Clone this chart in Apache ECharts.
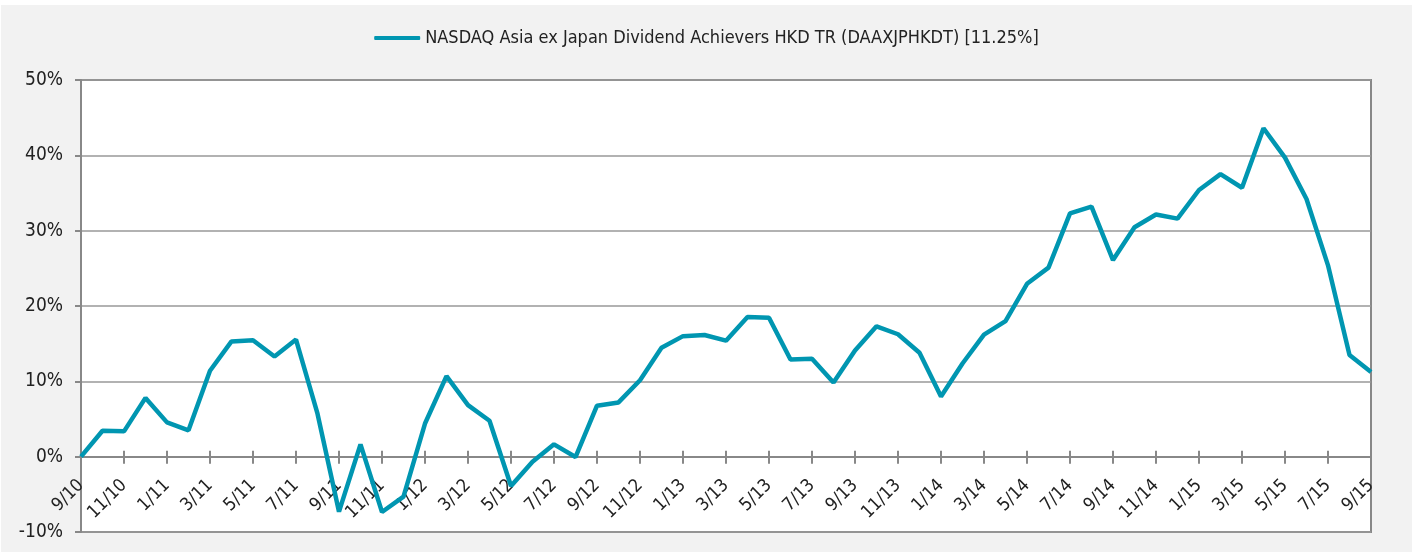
<!DOCTYPE html>
<html>
<head>
<meta charset="utf-8">
<script src="https://cdn.jsdelivr.net/npm/echarts@6/dist/echarts.min.js"></script>
<style>
html,body{margin:0;padding:0;background:#ffffff;width:1418px;height:552px;overflow:hidden;}
#c{position:absolute;left:1px;top:5px;width:1411px;height:547px;background:#f2f2f2;}
</style>
</head>
<body>
<div id="c"></div>
<script>
var seriesName = 'NASDAQ Asia ex Japan Dividend Achievers HKD TR (DAAXJPHKDT) [11.25%]';
var months = ['9/10','10/10','11/10','12/10',
  '1/11','2/11','3/11','4/11','5/11','6/11','7/11','8/11','9/11','10/11','11/11','12/11',
  '1/12','2/12','3/12','4/12','5/12','6/12','7/12','8/12','9/12','10/12','11/12','12/12',
  '1/13','2/13','3/13','4/13','5/13','6/13','7/13','8/13','9/13','10/13','11/13','12/13',
  '1/14','2/14','3/14','4/14','5/14','6/14','7/14','8/14','9/14','10/14','11/14','12/14',
  '1/15','2/15','3/15','4/15','5/15','6/15','7/15','8/15','9/15'];
var values = [0, 3.44, 3.36, 7.8,
  4.55, 3.5, 11.4, 15.3, 15.45, 13.3, 15.55, 5.7, -7.3, 1.64, -7.35, -5.3,
  4.4, 10.7, 6.85, 4.77, -3.9, -0.66, 1.64, -0.05, 6.76, 7.2, 10.15, 14.45,
  16.0, 16.15, 15.4, 18.55, 18.45, 12.9, 13.0, 9.85, 14.1, 17.3, 16.25, 13.8,
  8.0, 12.37, 16.2, 18.0, 22.95, 25.1, 32.3, 33.2, 26.1, 30.45, 32.15, 31.6,
  35.4, 37.5, 35.7, 43.6, 39.7, 34.2, 25.4, 13.5, 11.25];
var yMin = -10, yMax = 50, yStep = 10;

var FONT = "'Liberation Sans Narrow','DejaVu Sans Condensed','Roboto',sans-serif";
var GRID = {left: 80, right: 41, top: 75, bottom: 20};
var H = 547;
// distance of the zero line above the bottom edge of the plot
var zeroOffset = (H - GRID.top - GRID.bottom) * (0 - yMin) / (yMax - yMin);

var chart = echarts.init(document.getElementById('c'), null, {renderer:'canvas'});
chart.setOption({
  animation: false,
  backgroundColor: 'transparent',
  textStyle: {fontFamily: FONT},
  legend: {
    data: [seriesName],
    icon: 'roundRect',
    top: 19,
    left: 'center',
    itemWidth: 46,
    itemHeight: 4,
    itemGap: 4,
    textStyle: {fontFamily: FONT, fontSize: 18, color: '#222'}
  },
  grid: {
    left: GRID.left, right: GRID.right, top: GRID.top, bottom: GRID.bottom,
    show: true,
    backgroundColor: '#ffffff',
    borderColor: '#888888',
    borderWidth: 2
  },
  xAxis: [{
    type: 'category',
    data: months,
    boundaryGap: false,
    position: 'bottom',
    offset: -zeroOffset,
    axisLine: {onZero: false, lineStyle: {color: '#888888', width: 2}},
    axisTick: {show: true, interval: 1, length: 7, lineStyle: {color: '#888888', width: 2}},
    axisLabel: {interval: 1, rotate: 45, margin: 26, fontFamily: FONT, fontSize: 18, color: '#222'},
    splitLine: {show: false}
  }, {
    type: 'category',
    data: months,
    boundaryGap: false,
    position: 'bottom',
    offset: -zeroOffset,
    axisLine: {onZero: false, show: false},
    axisTick: {show: true, inside: true, interval: 1, length: 6, lineStyle: {color: '#888888', width: 2}},
    axisLabel: {show: false},
    splitLine: {show: false}
  }],
  yAxis: {
    type: 'value',
    min: yMin, max: yMax, interval: yStep,
    axisLine: {show: true, onZero: false, lineStyle: {color: '#888888', width: 2}},
    axisTick: {show: true, length: 6, lineStyle: {color: '#888888', width: 2}},
    axisLabel: {formatter: '{value}%', margin: 18, fontFamily: FONT, fontSize: 19, color: '#222'},
    splitLine: {show: true, lineStyle: {color: '#999999', width: 1.5}}
  },
  series: [{
    name: seriesName,
    type: 'line',
    data: values,
    symbol: 'none',
    lineStyle: {color: '#0096b1', width: 4.5},
    itemStyle: {color: '#0096b1'}
  }]
});
</script>
</body>
</html>
